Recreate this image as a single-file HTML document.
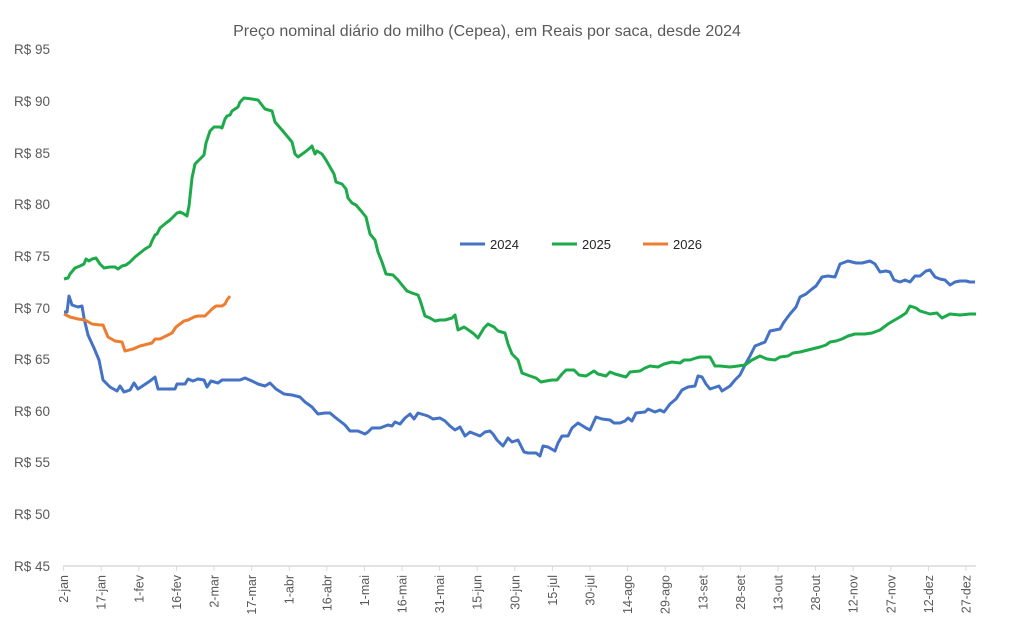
<!DOCTYPE html>
<html><head><meta charset="utf-8"><style>
body{margin:0;background:#fff;}
svg{display:block;font-family:"Liberation Sans",sans-serif;}
</style></head><body>
<svg width="1019" height="629" viewBox="0 0 1019 629">
<rect width="1019" height="629" fill="#fff"/>
<text x="487" y="36" text-anchor="middle" font-size="16" fill="#595959">Preço nominal diário do milho (Cepea), em Reais por saca, desde 2024</text>
<g font-size="13.5" fill="#595959">
<text x="14" y="54">R$ 95</text>
<text x="14" y="106">R$ 90</text>
<text x="14" y="158">R$ 85</text>
<text x="14" y="209">R$ 80</text>
<text x="14" y="261">R$ 75</text>
<text x="14" y="313">R$ 70</text>
<text x="14" y="364">R$ 65</text>
<text x="14" y="416">R$ 60</text>
<text x="14" y="467">R$ 55</text>
<text x="14" y="519">R$ 50</text>
<text x="14" y="571">R$ 45</text>
</g>
<line x1="63" y1="566" x2="976" y2="566" stroke="#d9d9d9" stroke-width="1.5"/>
<g stroke="#d9d9d9" stroke-width="1" id="ticks"></g>
<g font-size="12.5" fill="#595959" id="xl"></g>
<g fill="none" stroke-width="3" stroke-linejoin="round">
<polyline stroke="#4472C4" points="64,312 67,312 69,296 72,305 78,307 82,306 84,318 88,335 94,348 99,360 103,380 110,387 117,391 120,386 124,392 130,390 134,383 138,389 144,385 150,381 155,377 158,389 165,389 175,389 177,384 185,384 188,379 193,381 198,379 204,380 207,387 211,381 218,383 222,380 230,380 240,380 245,378 252,381 258,384 265,386 270,383 276,389 284,394 292,395 300,397 305,402 312,407 318,414 325,413 330,413 336,418 345,425 350,431 358,431 365,434 368,432 372,428 380,428 388,425 392,426 395,422 400,424 405,418 410,414 414,419 418,413 428,416 433,419 440,418 445,421 450,426 455,430 460,427 465,436 470,432 475,434 480,436 485,432 490,431 493,434 497,440 503,446 508,438 512,442 518,440 524,452 528,453 536,453 540,456 543,446 548,447 555,451 558,443 562,436 568,436 572,428 578,423 586,428 590,430 596,417 602,419 610,420 614,423 620,423 625,421 628,418 632,421 636,413 645,412 648,409 655,412 660,410 664,412 670,404 676,399 682,390 688,387 695,386 698,376 702,377 706,384 710,389 716,387 719,386 722,391 730,386 735,380 740,375 745,365 750,356 755,346 760,344 765,342 770,331 775,330 780,329 784,322 790,314 796,307 800,297 806,294 812,289 816,286 822,277 828,276 835,277 840,264 848,261 856,263 862,263 866,262 870,261 875,264 880,272 886,271 890,272 894,280 900,282 905,280 910,282 915,276 920,276 926,271 930,270 935,277 940,279 945,280 950,285 955,282 960,281 966,281 970,282 975,282"/>
<polyline stroke="#1DAA4A" points="64,279 68,278 70,274 75,268 80,266 84,264 86,259 89,261 92,259 96,258 100,264 104,268 110,267 115,267 118,269 122,266 126,265 130,262 135,257 140,253 145,249 150,246 152,241 155,235 157,234 160,228 166,223 170,220 174,216 177,213 180,212 184,214 187,216 189,206 192,178 195,164 200,159 204,155 206,143 210,131 214,127 220,127 222,128 225,119 227,116 230,115 232,111 238,107 240,102 244,98 252,99 258,100 265,109 272,111 275,122 282,130 292,142 295,154 298,157 305,152 310,148 312,146 315,154 317,151 322,154 326,160 330,167 334,174 336,182 342,184 346,189 348,198 352,203 356,205 362,212 366,217 370,234 375,240 378,252 382,262 386,274 393,275 398,280 402,285 407,291 412,293 418,295 420,300 425,316 430,318 435,321 440,320 445,320 452,318 455,315 458,330 464,327 470,331 474,334 478,338 484,328 488,324 494,327 498,331 505,333 508,344 512,354 518,360 522,373 530,376 536,378 541,382 546,381 552,380 557,380 562,374 566,370 574,370 579,375 586,376 594,371 598,374 606,376 610,372 615,374 626,377 630,372 640,371 645,368 650,366 658,367 664,364 672,362 680,363 684,360 690,360 696,358 700,357 710,357 715,366 720,366 730,367 738,366 745,365 752,360 760,356 767,359 775,360 780,357 788,356 793,353 800,352 808,350 816,348 820,347 826,345 830,342 836,341 842,339 848,336 855,334 860,334 865,334 872,333 880,330 888,324 893,321 900,317 906,313 910,306 916,308 920,311 930,314 937,313 942,318 950,314 960,315 970,314 976,314"/>
<polyline stroke="#ED7D31" points="64,314 70,317 78,319 85,320 92,324 100,325 103,325 108,337 115,341 122,342 125,351 133,349 140,346 148,344 152,343 155,339 160,339 166,336 172,333 176,327 180,324 184,321 188,320 194,317 198,316 205,316 212,309 216,306 222,306 225,304 227,300 230,296"/>
</g>
<g font-size="13" fill="#262626">
<line x1="460" y1="244" x2="485" y2="244" stroke="#4472C4" stroke-width="3"/><text x="490" y="249">2024</text>
<line x1="552" y1="244" x2="577" y2="244" stroke="#1DAA4A" stroke-width="3"/><text x="582" y="249">2025</text>
<line x1="643" y1="244" x2="668" y2="244" stroke="#ED7D31" stroke-width="3"/><text x="673" y="249">2026</text>
</g>
<script>
var L=["2-jan","17-jan","1-fev","16-fev","2-mar","17-mar","1-abr","16-abr","1-mai","16-mai","31-mai","15-jun","30-jun","15-jul","30-jul","14-ago","29-ago","13-set","28-set","13-out","28-out","12-nov","27-nov","12-dez","27-dez"];
var t=document.getElementById("ticks"),x=document.getElementById("xl"),ns="http://www.w3.org/2000/svg";
for(var i=0;i<25;i++){var px=63.6+i*37.6;
var l=document.createElementNS(ns,"line");l.setAttribute("x1",px);l.setAttribute("x2",px);l.setAttribute("y1",566);l.setAttribute("y2",571);t.appendChild(l);
var s=document.createElementNS(ns,"text");s.setAttribute("transform","translate("+(px+4.5)+",575) rotate(-90)");s.setAttribute("text-anchor","end");s.textContent=L[i];x.appendChild(s);}
</script>
</svg>
</body></html>
